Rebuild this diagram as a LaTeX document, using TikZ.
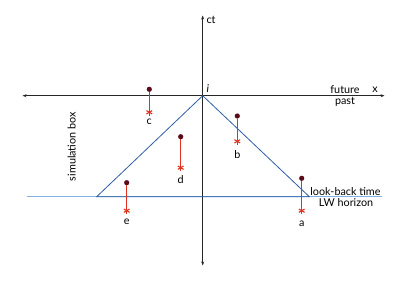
\documentclass[tikz,border=0pt]{standalone}
\usepackage{fontspec}
\setmainfont{Lato}
\usetikzlibrary{arrows.meta}
\definecolor{tri}{HTML}{2F5DA6}
\definecolor{hor}{HTML}{7FB2EA}
\definecolor{dotc}{HTML}{5A0A18}
\definecolor{wl}{HTML}{E0301E}
\tikzset{
  axis/.style={draw=black!85, line width=0.8pt, {Stealth[length=4pt,width=3pt]}-{Stealth[length=4pt,width=3pt]}},
  evdot/.style={circle, fill=dotc, inner sep=0pt, minimum size=5.2pt},
  evstar/.style={rectangle, inner sep=0pt, minimum size=7pt,
    path picture={
      \draw[wl, line width=1.1pt] (path picture bounding box.center) ++(90:3.3) -- ++(270:6.6);
      \draw[wl, line width=1.1pt] (path picture bounding box.center) ++(30:3.3) -- ++(210:6.6);
      \draw[wl, line width=1.1pt] (path picture bounding box.center) ++(150:3.3) -- ++(330:6.6);
    }},
  wline/.style={draw=wl, line width=0.8pt},
  lab/.style={font=\fontsize{10.8}{11}\selectfont, inner sep=0pt},
}
\begin{document}
\begin{tikzpicture}[x=1pt,y=-1pt]
\useasboundingbox[fill=white] (0,0) rectangle (415,283);
% axes
\coordinate (xl) at (22.5,95.7);
\coordinate (xr) at (384.5,95.7);
\coordinate (yt) at (202.7,15.5);
\coordinate (yb) at (202.7,265.5);
\coordinate (O) at (202.7,95.7);
\coordinate (tl) at (96.7,196.7);
\coordinate (tr) at (309.3,196.7);
\coordinate (hl) at (26.7,196.7);
\coordinate (hr) at (381.7,196.7);
\draw[hor, line width=1pt] (hl) -- (hr);
\draw[axis] (xl) -- (xr);
\draw[axis] (yb) -- (yt);
\draw[tri, line width=0.8pt] (tl) -- (O) -- (tr) -- cycle;
% labels
\node[lab, anchor=west] (ct) at (206.3,19.5) {ct};
\node[lab, anchor=west] (iv) at (206.5,89) {\itshape i};
\node[lab] (fut) at (345,90) {future};
\node[lab] (xlab) at (375,89.5) {x};
\node[lab] (past) at (345,101.5) {past};
\node[lab, rotate=90] (sim) at (71.7,146.7) {simulation box};
\node[lab] (lbt) at (345.5,191.5) {look-back time};
\node[lab] (lwh) at (346,203) {LW horizon};
% world lines
\foreach \n/\x/\yd/\ys/\yl in {c/149.3/89.3/112.3/121.7, b/237.3/116/141.3/155, d/180.7/136.7/167.7/179.5, e/126.7/182.7/210.7/221.5, a/301.7/178.3/210.7/224}{
  \node[evdot] (d\n) at (\x,\yd) {};
  \node[evstar] (s\n) at (\x,\ys) {};
  \draw[wline] (d\n) -- (s\n);
  \node[lab] (l\n) at (\x,\yl) {\n};
}
\end{tikzpicture}
\end{document}
